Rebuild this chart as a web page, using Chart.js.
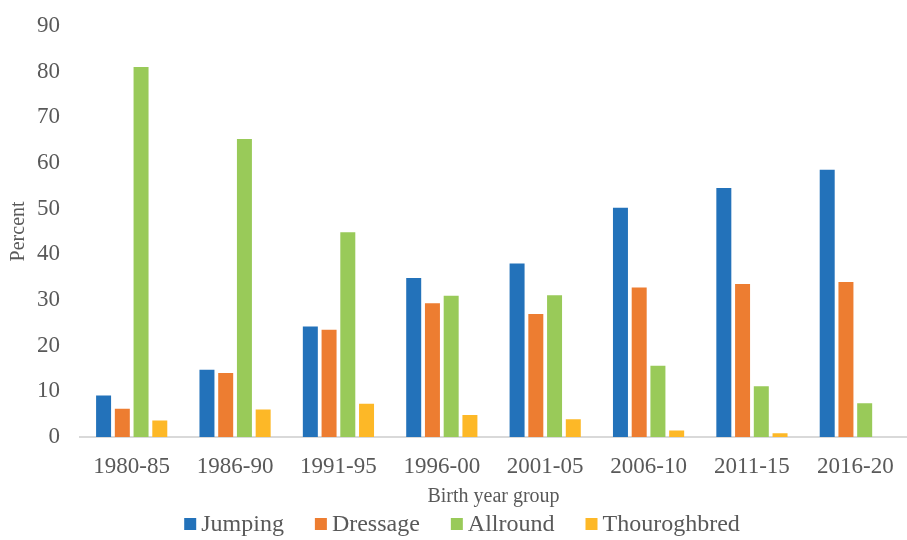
<!DOCTYPE html>
<html>
<head>
<meta charset="utf-8">
<script src="https://cdn.jsdelivr.net/npm/chart.js@4/dist/chart.umd.min.js"></script>
<style>
  html, body { margin: 0; padding: 0; background: #ffffff; }
  canvas { display: block; }
</style>
</head>
<body>
<canvas id="chart" width="907" height="540"></canvas>
<script>
// Share of horses per discipline by birth year group (percent)
const birthGroups = ['1980-85', '1986-90', '1991-95', '1996-00', '2001-05', '2006-10', '2011-15', '2016-20'];
const jumping      = [9.1, 14.7, 24.2, 34.8, 38.0, 50.2, 54.5, 58.5];
const dressage     = [6.2, 14.0, 23.5, 29.3, 26.9, 32.7, 33.5, 33.9];
const allround     = [81.0, 65.2, 44.8, 30.9, 31.0, 15.6, 11.1, 7.4];
const thoroughbred = [3.6, 6.0, 7.3, 4.8, 3.9, 1.4, 0.8, 0];
const seriesNames  = ['Jumping', 'Dressage', 'Allround', 'Thouroghbred'];
const yTicks       = [0, 10, 20, 30, 40, 50, 60, 70, 80, 90];

const seriesColors = ['#2372BA', '#ED7D31', '#99CA59', '#FDB827'];
const serif = '"Liberation Serif", "Times New Roman", serif';
const textGray = '#595959';

// Legend row drawn under the axis title
const legendRow = {
  id: 'legendRow',
  afterDraw(chart) {
    const ctx = chart.ctx;
    const size = 24, box = 12, gap = 5, spacing = 31;
    const y = 524;
    ctx.save();
    ctx.font = size + 'px ' + serif;
    ctx.textBaseline = 'middle';
    ctx.textAlign = 'left';
    const items = chart.data.datasets.map(ds => ({
      label: ds.label, color: ds.backgroundColor,
      w: box + gap + ctx.measureText(ds.label).width
    }));
    const total = items.reduce((s, it) => s + it.w, 0) + spacing * (items.length - 1);
    let x = 462 - total / 2;
    items.forEach(it => {
      ctx.fillStyle = it.color;
      ctx.fillRect(x, y - box / 2, box, box);
      ctx.fillStyle = textGray;
      ctx.fillText(it.label, x + box + gap, y + 1);
      x += it.w + spacing;
    });
    ctx.restore();
  }
};

const values = [jumping, dressage, allround, thoroughbred];

new Chart(document.getElementById('chart'), {
  type: 'bar',
  data: {
    labels: birthGroups,
    datasets: seriesNames.map((name, i) => ({
      label: name,
      data: values[i],
      backgroundColor: seriesColors[i],
      categoryPercentage: 0.725,
      barPercentage: 0.8
    }))
  },
  options: {
    responsive: false,
    animation: false,
    devicePixelRatio: 1,
    layout: { padding: { top: 8, right: 0, bottom: 30, left: 0 } },
    plugins: {
      legend: { display: false },
      tooltip: { enabled: false }
    },
    scales: {
      x: {
        afterFit(scale) { scale.height = 73; },
        grid: { display: false },
        border: { display: true, color: '#D9D9D9', width: 2 },
        ticks: {
          color: textGray,
          font: { family: serif, size: 23 },
          padding: 8,
          maxRotation: 0
        },
        title: {
          display: true,
          text: 'Birth year group',
          color: textGray,
          font: { family: serif, size: 20 },
          padding: { top: 1, bottom: 1 }
        }
      },
      y: {
        min: 0,
        max: 90,
        afterBuildTicks(scale) { scale.ticks = yTicks.map(v => ({ value: v })); },
        afterFit(scale) { scale.width = 80; },
        grid: { display: false },
        border: { display: false },
        ticks: {
          color: textGray,
          font: { family: serif, size: 23 },
          padding: 12
        },
        title: {
          display: true,
          text: 'Percent',
          color: textGray,
          font: { family: serif, size: 20 },
          padding: 7
        }
      }
    }
  },
  plugins: [legendRow]
});
</script>
</body>
</html>
